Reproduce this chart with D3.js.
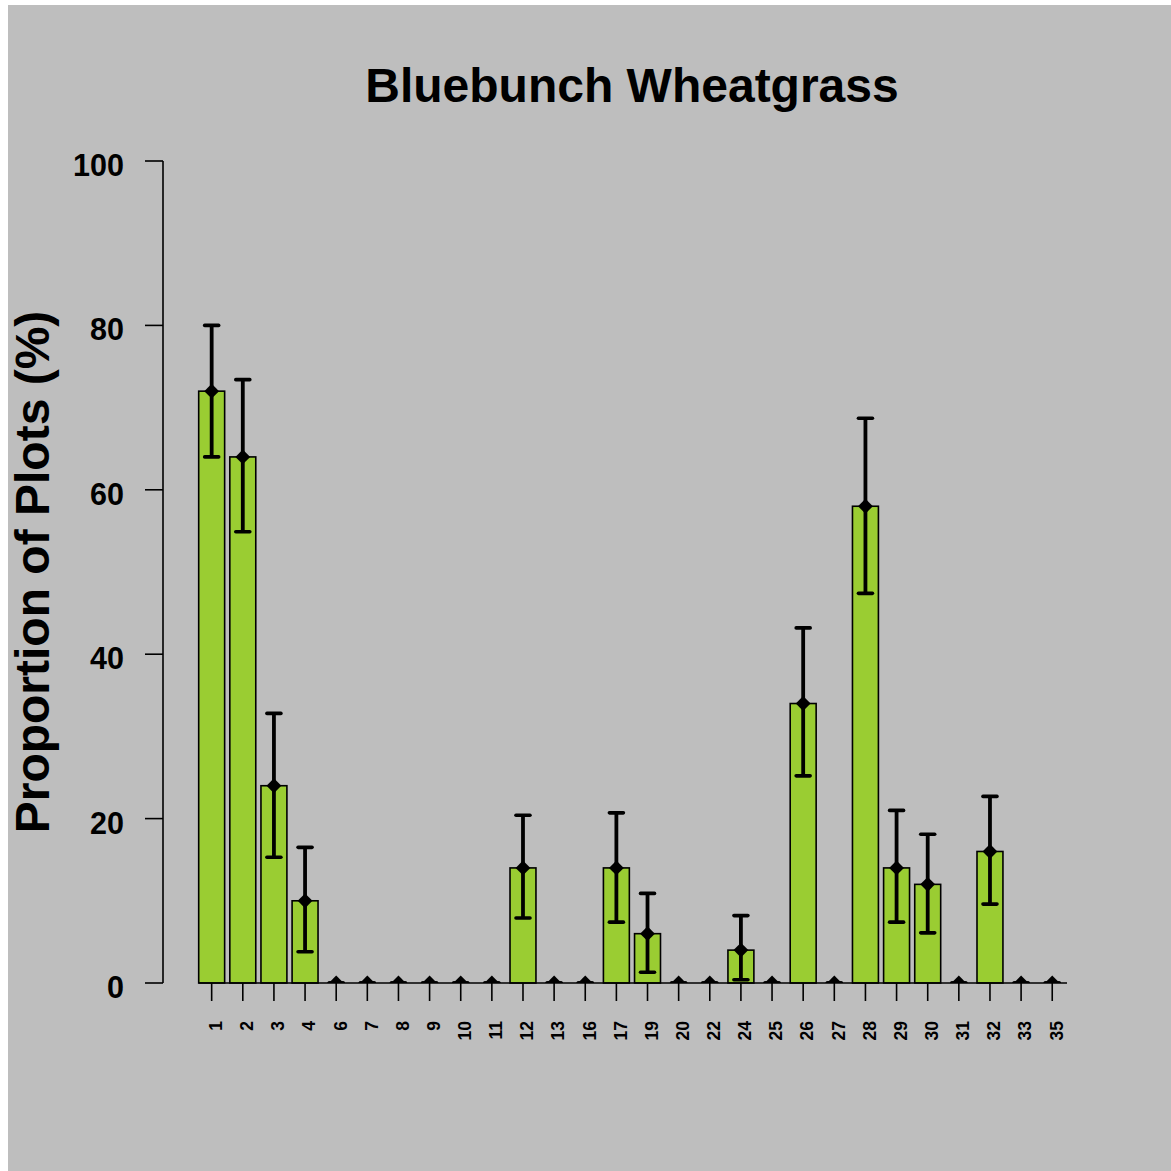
<!DOCTYPE html>
<html>
<head>
<meta charset="utf-8">
<script src="https://cdn.jsdelivr.net/npm/d3@7"></script>
<style>
  html, body { margin: 0; padding: 0; background: #ffffff; }
  svg { display: block; }
  text { font-family: "Liberation Sans", Arial, sans-serif; font-weight: bold; fill: #000; }
</style>
</head>
<body>
<script>
// Site categories along the x axis
const categories = ["1","2","3","4","6","7","8","9","10","11","12","13","16","17","19","20","22","24","25","26","27","28","29","30","31","32","33","35"];
// Proportion of plots (%) per category
const proportion = [72, 64, 24, 10, 0, 0, 0, 0, 0, 0, 14, 0, 0, 14, 6, 0, 0, 4, 0, 34, 0, 58, 14, 12, 0, 16, 0, 0];
// Error bar limits (%)
const lowerLimit = [64, 54.9, 15.3, 3.8, 0, 0, 0, 0, 0, 0, 7.9, 0, 0, 7.4, 1.3, 0, 0, 0.4, 0, 25.2, 0, 47.4, 7.4, 6.1, 0, 9.6, 0, 0];
const upperLimit = [80, 73.4, 32.8, 16.5, 0, 0, 0, 0, 0, 0, 20.4, 0, 0, 20.7, 10.9, 0, 0, 8.2, 0, 43.2, 0, 68.7, 21.0, 18.1, 0, 22.7, 0, 0];
const yTicks = [0, 20, 40, 60, 80, 100];

const W = 1171, H = 1171;
const svg = d3.select("body").append("svg").attr("width", W).attr("height", H);

// gray panel with a thin white edge on the left and top
svg.append("rect").attr("x", 8).attr("y", 5).attr("width", W - 8).attr("height", H - 5).attr("fill", "#bebebe");

const data = categories.map((c, i) => ({ cat: c, v: proportion[i], lo: lowerLimit[i], hi: upperLimit[i] }));

const x = d3.scaleBand().domain(categories).range([196.1, 1067.8]).paddingInner(1 / 6).paddingOuter(1 / 12);
const y = d3.scaleLinear().domain([0, 100]).range([983, 161]);

// clip marks to the area above the zero line
svg.append("defs").append("clipPath").attr("id", "plotClip")
  .append("rect").attr("x", 0).attr("y", 0).attr("width", W).attr("height", y(0));

// bars
svg.append("g").selectAll("rect").data(data).join("rect")
  .attr("x", d => x(d.cat))
  .attr("y", d => y(d.v))
  .attr("width", x.bandwidth())
  .attr("height", d => y(0) - y(d.v))
  .attr("fill", "#9acd32")
  .attr("stroke", "#000")
  .attr("stroke-width", 1.6);

// zero line under the bars
svg.append("line")
  .attr("x1", x(categories[0])).attr("x2", 1067)
  .attr("y1", y(0)).attr("y2", y(0))
  .attr("stroke", "#000").attr("stroke-width", 1.6);

// error bars and mean markers
const eb = svg.append("g").attr("clip-path", "url(#plotClip)");
const cx = d => x(d.cat) + x.bandwidth() / 2;
eb.selectAll("line.stem").data(data).join("line").attr("class", "stem")
  .attr("x1", cx).attr("x2", cx)
  .attr("y1", d => y(d.lo)).attr("y2", d => y(d.hi))
  .attr("stroke", "#000").attr("stroke-width", 3.8);
eb.selectAll("line.capHi").data(data).join("line").attr("class", "capHi")
  .attr("x1", d => cx(d) - 7).attr("x2", d => cx(d) + 7)
  .attr("y1", d => y(d.hi)).attr("y2", d => y(d.hi))
  .attr("stroke", "#000").attr("stroke-width", 3.6).attr("stroke-linecap", "round");
eb.selectAll("line.capLo").data(data).join("line").attr("class", "capLo")
  .attr("x1", d => cx(d) - 7).attr("x2", d => cx(d) + 7)
  .attr("y1", d => y(d.lo)).attr("y2", d => y(d.lo))
  .attr("stroke", "#000").attr("stroke-width", 3.6).attr("stroke-linecap", "round");
const diamond = d3.symbol().type(d3.symbolSquare).size(110);
eb.selectAll("path.pt").data(data).join("path").attr("class", "pt")
  .attr("d", diamond)
  .attr("transform", d => `translate(${cx(d)},${y(d.v)}) rotate(45)`)
  .attr("fill", "#000");

// y axis
const yAxis = svg.append("g");
yAxis.append("line").attr("x1", 163).attr("x2", 163).attr("y1", y(0)).attr("y2", y(100))
  .attr("stroke", "#000").attr("stroke-width", 1.6);
yAxis.selectAll("line.tick").data(yTicks).join("line").attr("class", "tick")
  .attr("x1", 145).attr("x2", 163).attr("y1", d => y(d)).attr("y2", d => y(d))
  .attr("stroke", "#000").attr("stroke-width", 1.6);
yAxis.selectAll("text").data(yTicks).join("text")
  .attr("x", 124).attr("y", d => y(d) + 4).attr("dy", "0.36em")
  .attr("text-anchor", "end").attr("font-size", 30.5)
  .text(d => d);

// x axis ticks and rotated labels
const xAxis = svg.append("g");
xAxis.selectAll("line").data(categories).join("line")
  .attr("x1", d => x(d) + x.bandwidth() / 2).attr("x2", d => x(d) + x.bandwidth() / 2)
  .attr("y1", y(0)).attr("y2", 1001)
  .attr("stroke", "#000").attr("stroke-width", 1.6);
xAxis.selectAll("text").data(categories).join("text")
  .attr("transform", d => `translate(${x(d) + x.bandwidth() / 2 + 4},1021) rotate(-90)`)
  .attr("dy", "0.36em")
  .attr("text-anchor", "end").attr("font-size", 17.5)
  .text(d => d);

// titles
svg.append("text").attr("x", 632).attr("y", 102).attr("text-anchor", "middle")
  .attr("font-size", 48).text("Bluebunch Wheatgrass");
svg.append("text")
  .attr("transform", "translate(49,572) rotate(-90)")
  .attr("text-anchor", "middle").attr("font-size", 48)
  .text("Proportion of Plots (%)");
</script>
</body>
</html>
